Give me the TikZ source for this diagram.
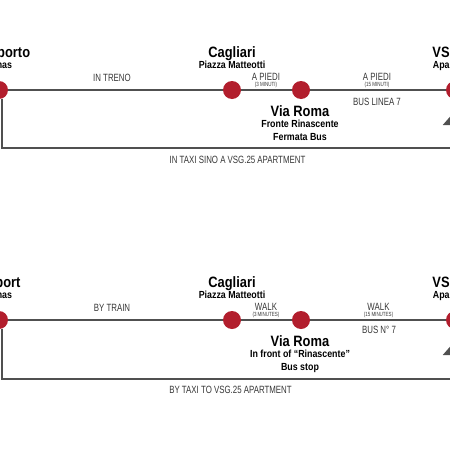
\documentclass[tikz,border=0pt]{standalone}
\usepackage{fontspec}
\setmainfont{Liberation Sans}
\newfontfamily\ttlfont{Liberation Sans}[FakeStretch=0.86]
\newfontfamily\labfont{Liberation Sans}[FakeStretch=0.75]
\usetikzlibrary{arrows.meta}
\definecolor{stopred}{RGB}{178,30,45}
\definecolor{linegray}{RGB}{80,80,80}
\definecolor{labgray}{RGB}{55,55,55}
\begin{document}
\begin{tikzpicture}[x=1pt,y=-1pt,
 stop/.style={circle,fill=stopred,minimum size=18pt,inner sep=0pt},
 route/.style={draw=linegray,line width=2pt},
 uparrow/.style={route,-{Triangle[width=24pt,length=14pt]}},
 bigname/.style={font=\ttlfont\bfseries\fontsize{15}{15}\selectfont,anchor=base,inner sep=0pt},
 subname/.style={font=\ttlfont\bfseries\fontsize{10.3}{10.3}\selectfont,anchor=base,inner sep=0pt},
 lab/.style={font=\labfont\fontsize{10.5}{10.5}\selectfont,text=labgray,anchor=base,inner sep=0pt},
 tinylab/.style={font=\labfont\fontsize{6}{6}\selectfont,text=labgray,anchor=base,inner sep=0pt}]
\useasboundingbox (0,0) rectangle (450,450);
\clip (0,0) rectangle (450,450);
\fill[white] (0,0) rectangle (450,450);

% ---------- Italian panel ----------
\node[stop] (a1) at (-1,90) {};
\node[stop] (a2) at (232,90) {};
\node[stop] (a3) at (301,90) {};
\node[stop] (a4) at (455,90) {};
\coordinate (ac1) at (2,148);
\coordinate (ac2) at (470,148);
\coordinate (aup) at (455,148);
\coordinate (atip) at (455,111);
\draw[route] (a1) -- (a2);
\draw[route] (a2) -- (a3);
\draw[route] (a3) -- (a4);
\draw[route] (a1.south -| ac1) -- (ac1) -- (ac2);
\draw[uparrow] (aup) -- (atip);

\node[bigname] (at1) at (-1,57) {Aeroporto};
\node[subname] (as1) at (-1,68.5) {Elmas};
\node[bigname] (at2) at (232,57) {Cagliari};
\node[subname] (as2) at (232,68.5) {Piazza Matteotti};
\node[bigname] (at4) at (455,57) {VSG.25};
\node[subname] (as4) at (455,68.5) {Apartment};
\node[lab] (al1) at (112,81) {IN TRENO};
\node[lab] (al2) at (266,80.5) {A PIEDI};
\node[tinylab] (am2) at (266,86) {(3 MINUTI)};
\node[lab] (al3) at (377,80.5) {A PIEDI};
\node[tinylab] (am3) at (377,86) {(15 MINUTI)};
\node[lab] (ab3) at (377,105) {BUS LINEA 7};
\node[bigname] (at3) at (300,116) {Via Roma};
\node[subname] (as3) at (300,127.7) {Fronte Rinascente};
\node[subname] (aq3) at (300,140) {Fermata Bus};
\node[lab] (ataxi) at (237.5,163) {IN TAXI SINO A VSG.25 APARTMENT};

% ---------- English panel ----------
\node[stop] (b1) at (-1,320) {};
\node[stop] (b2) at (232,320) {};
\node[stop] (b3) at (301,320) {};
\node[stop] (b4) at (455,320) {};
\coordinate (bc1) at (2,378.5);
\coordinate (bc2) at (470,378.5);
\coordinate (bup) at (455,378.5);
\coordinate (btip) at (455,341);
\draw[route] (b1) -- (b2);
\draw[route] (b2) -- (b3);
\draw[route] (b3) -- (b4);
\draw[route] (b1.south -| bc1) -- (bc1) -- (bc2);
\draw[uparrow] (bup) -- (btip);

\node[bigname] (bt1) at (-1,287) {Airport};
\node[subname] (bs1) at (-1,298.5) {Elmas};
\node[bigname] (bt2) at (232,287) {Cagliari};
\node[subname] (bs2) at (232,298.5) {Piazza Matteotti};
\node[bigname] (bt4) at (455,287) {VSG.25};
\node[subname] (bs4) at (455,298.5) {Apartment};
\node[lab] (bl1) at (112,311.5) {BY TRAIN};
\node[lab] (bl2) at (266,310.5) {WALK};
\node[tinylab] (bm2) at (266,316) {(3 MINUTES)};
\node[lab] (bl3) at (378.5,310.5) {WALK};
\node[tinylab] (bm3) at (378.5,316) {(15 MINUTES)};
\node[lab] (bb3) at (379,333.5) {BUS N° 7};
\node[bigname] (bt3) at (300,346) {Via Roma};
\node[subname] (bs3) at (300,357.7) {In front of “Rinascente”};
\node[subname] (bq3) at (300,370) {Bus stop};
\node[lab] (btaxi) at (230.5,393.3) {BY TAXI TO VSG.25 APARTMENT};
\end{tikzpicture}
\end{document}
